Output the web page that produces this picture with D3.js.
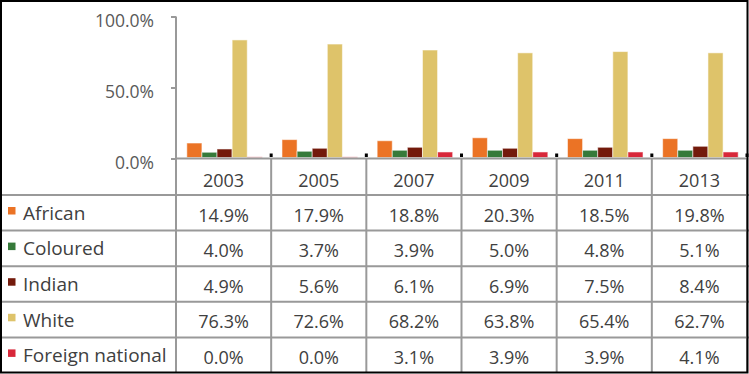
<!DOCTYPE html>
<html>
<head>
<meta charset="utf-8">
<script src="https://cdn.jsdelivr.net/npm/d3@7"></script>
<style>
  html, body { margin: 0; padding: 0; background: #fff; }
  svg { display: block; }
</style>
</head>
<body>
<div id="chart"></div>
<script>
// ---------- data ----------
const years = ["2003", "2005", "2007", "2009", "2011", "2013"];
const seriesNames = ["African", "Coloured", "Indian", "White", "Foreign national"];
const seriesColors = ["#EB7325", "#367A3A", "#731A0B", "#DEC36A", "#D8283A"];

// bar heights as drawn in the picture (%)
const barAfrican  = [10.9, 13.3, 12.5, 14.6, 14.0, 14.0];
const barColoured = [4.4, 5.1, 5.8, 5.8, 5.8, 5.8];
const barIndian   = [6.7, 7.2, 7.9, 7.2, 7.9, 8.6];
const barWhite    = [83.5, 80.6, 76.4, 74.4, 75.3, 74.4];
const barForeign  = [1.2, 1.2, 4.6, 4.6, 4.6, 4.6];

// values printed in the data table (%)
const tableAfrican  = [14.9, 17.9, 18.8, 20.3, 18.5, 19.8];
const tableColoured = [4.0, 3.7, 3.9, 5.0, 4.8, 5.1];
const tableIndian   = [4.9, 5.6, 6.1, 6.9, 7.5, 8.4];
const tableWhite    = [76.3, 72.6, 68.2, 63.8, 65.4, 62.7];
const tableForeign  = [0.0, 0.0, 3.1, 3.9, 3.9, 4.1];

const yTicks = [0, 50, 100];

const barSeries = [barAfrican, barColoured, barIndian, barWhite, barForeign];
const tableSeries = [tableAfrican, tableColoured, tableIndian, tableWhite, tableForeign];

// ---------- layout ----------
const W = 749, H = 374;
const plotLeft = 176, plotRight = 747;
const yTop = 16.5, yBase = 158.5;
const tableTop = 195, tableBottom = 373;
const gridColor = "#999999";
const font = "'Open Sans', 'Noto Sans', sans-serif";

const svg = d3.select("#chart").append("svg")
  .attr("width", W).attr("height", H);

const x0 = d3.scaleBand().domain(years).range([plotLeft, plotRight]).padding(0);
const x1 = d3.scaleBand().domain(seriesNames)
  .range([0, x0.bandwidth()]).paddingInner(0).paddingOuter(0.65);
const y = d3.scaleLinear().domain([0, 100]).range([yBase, yTop]);
const rows = d3.scaleBand().domain(seriesNames).range([tableTop, tableBottom]).padding(0);

// ---------- bars ----------
const groups = svg.append("g").selectAll("g")
  .data(years).join("g")
  .attr("transform", d => `translate(${x0(d) + 1},0)`);

groups.selectAll("rect")
  .data((yr, i) => seriesNames.map((s, k) => ({ s, k, v: barSeries[k][i] })))
  .join("rect")
  .attr("x", d => x1(d.s))
  .attr("width", x1.bandwidth())
  .attr("y", d => y(d.v))
  .attr("height", d => yBase - 1 - y(d.v))
  .attr("fill", d => seriesColors[d.k])
  .attr("fill-opacity", d => d.v < 2 ? 0.45 : 1)
  .attr("stroke", d => d.v < 2 ? "none" : "rgba(255,255,255,0.55)")
  .attr("stroke-width", 1);

// ---------- y axis ----------
const yAxis = d3.axisLeft(y).tickValues(yTicks)
  .tickFormat(d => d.toFixed(1) + "%")
  .tickSize(5).tickPadding(17);

const ax = svg.append("g").attr("transform", `translate(${plotLeft},0)`).call(yAxis);
ax.select(".domain").remove();
ax.selectAll(".tick line").attr("stroke", gridColor).attr("stroke-width", 2);
ax.selectAll(".tick text")
  .attr("fill", "#595959")
  .attr("font-family", font)
  .attr("font-size", 17.5)
  .attr("dy", "0.55em");

// ---------- grid lines of the table ----------
const grid = svg.append("g").attr("stroke", gridColor).attr("stroke-width", 2).attr("fill", "none");
grid.append("line").attr("x1", plotLeft).attr("x2", plotLeft).attr("y1", yTop).attr("y2", tableBottom);
grid.append("line").attr("x1", plotLeft).attr("x2", plotRight).attr("y1", yBase).attr("y2", yBase);
years.forEach(yr => {
  const xr = x0(yr) + x0.bandwidth();
  grid.append("line").attr("x1", xr).attr("x2", xr).attr("y1", yBase).attr("y2", tableBottom);
});
seriesNames.forEach(s => {
  grid.append("line").attr("x1", 0).attr("x2", W).attr("y1", rows(s)).attr("y2", rows(s));
});

// small black markers at column boundaries
svg.append("g").selectAll("rect")
  .data(years).join("rect")
  .attr("x", d => x0(d) + x0.bandwidth() - 1.5)
  .attr("y", yBase - 5)
  .attr("width", 3).attr("height", 3.5)
  .attr("fill", "#000");

// ---------- year header ----------
svg.append("g").selectAll("text")
  .data(years).join("text")
  .attr("x", d => x0(d) + x0.bandwidth() / 2)
  .attr("y", 187.3)
  .attr("text-anchor", "middle")
  .attr("font-family", font).attr("font-size", 18)
  .attr("fill", "#404040")
  .text(d => d);

// ---------- legend column ----------
const leg = svg.append("g").selectAll("g")
  .data(seriesNames).join("g")
  .attr("transform", d => `translate(0,${rows(d)})`);
leg.append("rect")
  .attr("x", 8).attr("y", 12).attr("width", 7.5).attr("height", 7.5)
  .attr("fill", (d, i) => seriesColors[i]);
leg.append("text")
  .attr("x", 23).attr("y", 24.8)
  .attr("font-family", font).attr("font-size", 19)
  .attr("fill", "#404040")
  .text(d => d);

// ---------- table values ----------
seriesNames.forEach((s, k) => {
  svg.append("g").selectAll("text")
    .data(tableSeries[k]).join("text")
    .attr("x", (d, i) => x0(years[i]) + x0.bandwidth() / 2)
    .attr("y", rows(s) + 26.6)
    .attr("text-anchor", "middle")
    .attr("font-family", font).attr("font-size", 18)
    .attr("fill", "#404040")
    .text(d => d.toFixed(1) + "%");
});

// ---------- outer border ----------
svg.append("rect")
  .attr("x", 1).attr("y", 1).attr("width", W - 2.5).attr("height", H - 2.5)
  .attr("fill", "none").attr("stroke", "#000").attr("stroke-width", 2);
</script>
</body>
</html>
